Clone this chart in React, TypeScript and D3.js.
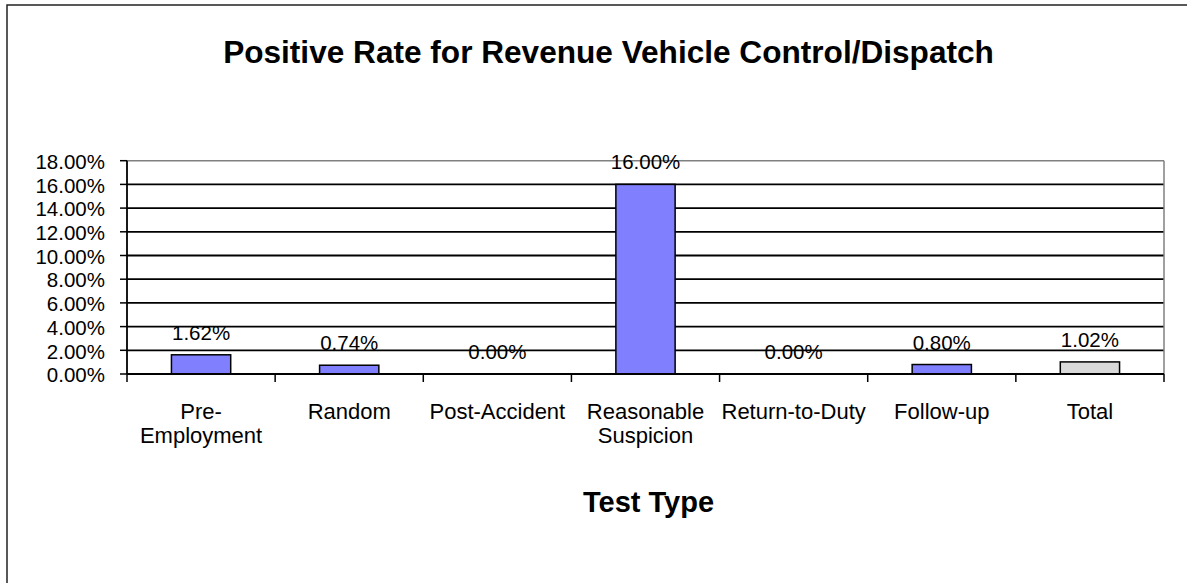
import React from "react";
import * as d3 from "d3";

const categories: string[] = ["Pre-\nEmployment", "Random", "Post-Accident", "Reasonable\nSuspicion", "Return-to-Duty", "Follow-up", "Total"];
const values: number[] = [1.62, 0.74, 0.0, 16.0, 0.0, 0.8, 1.02];
const valueLabels: string[] = ["1.62%", "0.74%", "0.00%", "16.00%", "0.00%", "0.80%", "1.02%"];
const yTicks: number[] = [0, 2, 4, 6, 8, 10, 12, 14, 16, 18];
const fills: string[] = ["#8080FF", "#8080FF", "#8080FF", "#8080FF", "#8080FF", "#8080FF", "#D9D9D9"];
const title = "Positive Rate for Revenue Vehicle Control/Dispatch";
const xTitle = "Test Type";

export default function App() {
  const W = 1187, H = 583;
  const left = 127, right = 1164, top = 160.7, bottom = 374;
  const font = "Arial, 'Liberation Sans', Helvetica, sans-serif";

  const x = d3.scaleBand<string>().domain(categories).range([left, right]).paddingInner(0).paddingOuter(0);
  const y = d3.scaleLinear().domain([0, 18]).range([bottom, top]);
  const bw = x.bandwidth() * 0.4;

  return (
    <svg width={W} height={H} style={{ position: "absolute", left: 0, top: 0, background: "#fff" }} fontFamily={font}>
      <rect x={7} y={5} width={1300} height={700} fill="#fff" stroke="#222" strokeWidth={1.5} />
      <text x={608.5} y={63} textAnchor="middle" fontSize={31.6} fontWeight="bold" fill="#000">{title}</text>

      {/* gridlines */}
      {yTicks.filter(t => t > 0 && t < 18).map(t => (
        <line key={"g" + t} x1={left} x2={right} y1={y(t)} y2={y(t)} stroke="#000" strokeWidth={1.8} />
      ))}
      <line x1={left} x2={right} y1={y(18)} y2={y(18)} stroke="#808080" strokeWidth={1.5} />
      <line x1={right} x2={right} y1={y(18)} y2={bottom} stroke="#808080" strokeWidth={1.5} />

      {/* bars */}
      {categories.map((c, i) => {
        const cx = (x(c) as number) + x.bandwidth() / 2;
        const h = bottom - y(values[i]);
        return (
          <g key={"b" + i}>
            {values[i] > 0 && (
              <rect x={cx - bw / 2} y={y(values[i])} width={bw} height={h} fill={fills[i]} stroke="#000" strokeWidth={1.5} />
            )}
            <text x={cx} y={y(values[i]) - 15} textAnchor="middle" fontSize={20.5} fill="#000">{valueLabels[i]}</text>
          </g>
        );
      })}

      {/* y axis */}
      <line x1={left} x2={left} y1={top} y2={bottom} stroke="#000" strokeWidth={1.8} />
      {yTicks.map(t => (
        <g key={"y" + t}>
          <line x1={left - 7} x2={left} y1={y(t)} y2={y(t)} stroke="#000" strokeWidth={1.5} />
          <text x={105} y={y(t)} dy="0.4em" textAnchor="end" fontSize={20.5} fill="#000">{t.toFixed(2) + "%"}</text>
        </g>
      ))}

      {/* x axis */}
      <line x1={left} x2={right} y1={bottom} y2={bottom} stroke="#000" strokeWidth={1.8} />
      {[...categories.map(c => x(c) as number), right].map((px, i) => (
        <line key={"xt" + i} x1={px} x2={px} y1={bottom} y2={bottom + 8} stroke="#000" strokeWidth={1.5} />
      ))}
      {categories.map((c, i) => {
        const cx = (x(c) as number) + x.bandwidth() / 2;
        const lines = c.split("\n");
        return (
          <text key={"xl" + i} x={cx} y={419} textAnchor="middle" fontSize={22} fill="#000">
            {lines.map((l, j) => (
              <tspan key={j} x={cx} dy={j === 0 ? 0 : 24}>{l}</tspan>
            ))}
          </text>
        );
      })}
      <text x={648.5} y={511.5} textAnchor="middle" fontSize={29} fontWeight="bold" fill="#000">{xTitle}</text>
    </svg>
  );
}
